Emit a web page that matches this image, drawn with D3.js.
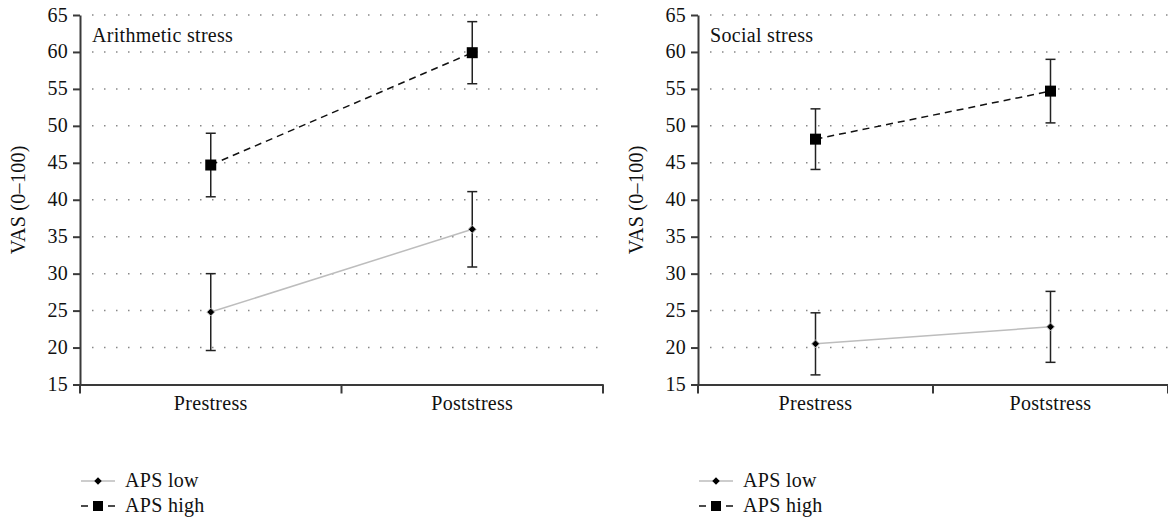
<!doctype html>
<html lang="en">
<head>
<meta charset="utf-8">
<script src="https://cdn.jsdelivr.net/npm/d3@7"></script>
<style>
  body { margin: 0; background: #fff; }
  svg text { font-family: "Liberation Serif", "Times New Roman", serif !important; fill: #111; letter-spacing: 0.3px; }
  .grid line { stroke: #888; stroke-width: 1.5; stroke-dasharray: 1.5 10.5; }
  .axis path, .axis line { stroke: #3a3a3a; stroke-width: 2; }
</style>
</head>
<body>
<svg id="chart" width="1168" height="520" font-family="Liberation Serif, serif"></svg>
<script>
  // categories and ticks
  var stages = ["Prestress", "Poststress"];
  var yTicks = [15, 20, 25, 30, 35, 40, 45, 50, 55, 60, 65];

  // Arithmetic stress panel
  var arithLowMean  = [24.8, 36.0];
  var arithLowErr   = [5.2, 5.1];
  var arithHighMean = [44.7, 59.9];
  var arithHighErr  = [4.3, 4.2];

  // Social stress panel
  var socialLowMean  = [20.5, 22.8];
  var socialLowErr   = [4.2, 4.8];
  var socialHighMean = [48.2, 54.7];
  var socialHighErr  = [4.1, 4.3];

  var svg = d3.select("#chart");
  var fs = 20;

  var y = d3.scaleLinear().domain([15, 65]).range([384.5, 15]);

  function panel(left, right, title, low, lowErr, high, highErr) {
    var g = svg.append("g");
    var x = d3.scaleBand().domain(stages).range([left, right]);
    var cx = function (s) { return x(s) + x.bandwidth() / 2; };

    // dotted grid
    g.append("g").attr("class", "grid")
      .selectAll("line").data(yTicks.slice(1)).enter().append("line")
      .attr("x1", left + 12).attr("x2", right)
      .attr("y1", function (d) { return y(d); })
      .attr("y2", function (d) { return y(d); });

    // y axis
    var ya = g.append("g").attr("class", "axis")
      .attr("transform", "translate(" + left + ",0)")
      .call(d3.axisLeft(y).tickValues(yTicks).tickSize(7).tickSizeOuter(0));
    ya.attr("font-family", null);
    ya.selectAll("text").attr("font-size", fs).attr("dx", -2).attr("dy", "0.3em");

    // x axis
    var xa = g.append("g").attr("class", "axis")
      .attr("transform", "translate(0," + y(15) + ")")
      .call(d3.axisBottom(x).tickSize(0).tickSizeOuter(0));
    xa.attr("font-family", null);
    xa.selectAll("text").attr("font-size", fs).attr("dy", 22);
    xa.selectAll(".sep").data(d3.range(stages.length + 1)).enter().append("line")
      .attr("class", "sep")
      .attr("x1", function (d) { return left + d * x.bandwidth(); })
      .attr("x2", function (d) { return left + d * x.bandwidth(); })
      .attr("y1", 0).attr("y2", 9);

    // y label
    g.append("text")
      .attr("transform", "translate(" + (left - 55) + "," + y(40) + ") rotate(-90)")
      .attr("text-anchor", "middle")
      .attr("font-size", fs)
      .text("VAS (0\u2013100)");

    // panel title
    g.append("text")
      .attr("x", left + 12).attr("y", 42)
      .attr("font-size", fs)
      .text(title);

    var series = [
      { mean: low, err: lowErr, stroke: "#bdbdbd", dash: null, shape: "diamond" },
      { mean: high, err: highErr, stroke: "#111", dash: "7 5", shape: "square" }
    ];

    series.forEach(function (s) {
      var pts = stages.map(function (st, i) { return { st: st, m: s.mean[i], e: s.err[i] }; });

      // error bars
      var eb = g.append("g").attr("stroke", "#222").attr("stroke-width", 1.5);
      eb.selectAll(".v").data(pts).enter().append("line")
        .attr("x1", function (d) { return cx(d.st); })
        .attr("x2", function (d) { return cx(d.st); })
        .attr("y1", function (d) { return y(d.m - d.e); })
        .attr("y2", function (d) { return y(d.m + d.e); });
      [-1, 1].forEach(function (sign) {
        eb.selectAll(".c" + sign).data(pts).enter().append("line")
          .attr("x1", function (d) { return cx(d.st) - 5; })
          .attr("x2", function (d) { return cx(d.st) + 5; })
          .attr("y1", function (d) { return y(d.m + sign * d.e); })
          .attr("y2", function (d) { return y(d.m + sign * d.e); });
      });

      // connecting line
      g.append("path").datum(pts)
        .attr("fill", "none")
        .attr("stroke", s.stroke)
        .attr("stroke-width", 1.5)
        .attr("stroke-dasharray", s.dash)
        .attr("d", d3.line().x(function (d) { return cx(d.st); }).y(function (d) { return y(d.m); }));

      // markers
      var sym = s.shape === "square"
        ? d3.symbol().type(d3.symbolSquare).size(121)
        : d3.symbol().type(d3.symbolDiamond2).size(40);
      g.selectAll(".m-" + s.shape).data(pts).enter().append("path")
        .attr("class", "m-" + s.shape)
        .attr("transform", function (d) { return "translate(" + cx(d.st) + "," + y(d.m) + ")"; })
        .attr("d", sym)
        .attr("fill", "#000")
        .attr("stroke", s.shape === "diamond" ? "#bbb" : "none")
        .attr("stroke-width", 1);
    });

    // legend
    var lg = g.append("g").attr("transform", "translate(" + (left + 1) + ",481)");
    var items = [
      { label: "APS low", stroke: "#bdbdbd", dash: null, shape: "diamond" },
      { label: "APS high", stroke: "#111", dash: "7 20", shape: "square" }
    ];
    items.forEach(function (it, i) {
      var row = lg.append("g").attr("transform", "translate(0," + i * 25 + ")");
      row.append("line")
        .attr("x1", 0).attr("x2", 34).attr("y1", 0).attr("y2", 0)
        .attr("stroke", it.stroke).attr("stroke-width", 1.5)
        .attr("stroke-dasharray", it.dash);
      row.append("path")
        .attr("transform", "translate(17,0)")
        .attr("d", it.shape === "square"
          ? d3.symbol().type(d3.symbolSquare).size(100)
          : d3.symbol().type(d3.symbolDiamond2).size(36))
        .attr("fill", "#000");
      row.append("text")
        .attr("x", 44).attr("y", 6)
        .attr("font-size", fs)
        .text(it.label);
    });
  }

  panel(80, 603, "Arithmetic stress", arithLowMean, arithLowErr, arithHighMean, arithHighErr);
  panel(698, 1168, "Social stress", socialLowMean, socialLowErr, socialHighMean, socialHighErr);
</script>
</body>
</html>
